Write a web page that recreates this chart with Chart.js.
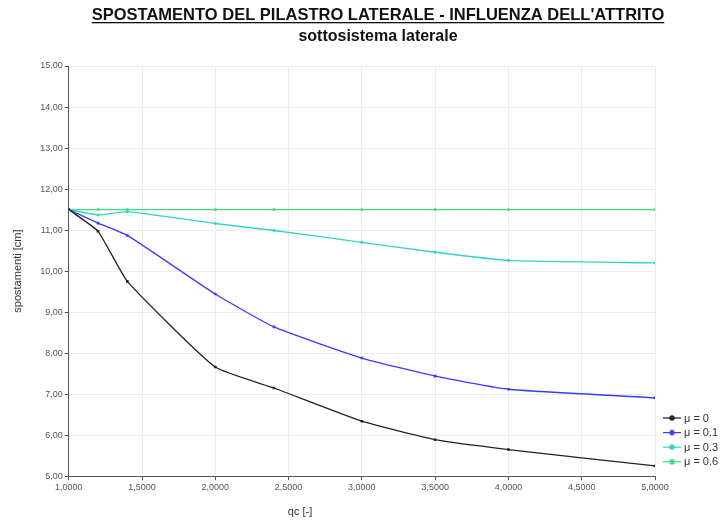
<!DOCTYPE html>
<html>
<head>
<meta charset="utf-8">
<script src="https://cdn.jsdelivr.net/npm/chart.js@4.4.1/dist/chart.umd.min.js"></script>
<style>
  html, body { margin: 0; padding: 0; background: #fff; }
  canvas { display: block; }
</style>
</head>
<body>
<canvas id="grafico" width="721" height="523"></canvas>
<script>
// qc [-] sull'asse x, spostamenti [cm] sull'asse y
var qc = [1.0, 1.2, 1.4, 2.0, 2.4, 3.0, 3.5, 4.0, 5.0];
var mu0 = [11.50, 10.97, 9.75, 7.66, 7.15, 6.34, 5.89, 5.65, 5.25];
var mu01 = [11.50, 11.17, 10.87, 9.44, 8.64, 7.88, 7.44, 7.12, 6.91];
var mu03 = [11.50, 11.37, 11.45, 11.16, 10.99, 10.70, 10.46, 10.26, 10.20];
var mu06 = [11.50, 11.50, 11.50, 11.50, 11.50, 11.50, 11.50, 11.50, 11.50];
var etichette = ["μ = 0", "μ = 0.1", "μ = 0.3", "μ = 0.6"];

var titolo = "SPOSTAMENTO DEL PILASTRO LATERALE - INFLUENZA DELL'ATTRITO";
var sottotitolo = "sottosistema laterale";

var colori = ["#222222", "#3b3bff", "#35d2c6", "#3edc80"];
var FONT = "'Liberation Sans', Arial, sans-serif";

function punti(valori) {
  return qc.map(function (x, i) { return { x: x, y: valori[i] }; });
}

function virgola(v, dec) {
  return Number(v).toFixed(dec).replace(".", ",");
}

// titoli, titolo dell'asse x e legenda (linea + asterisco) disegnati a mano
var decorazioni = {
  id: "decorazioni",
  afterDraw: function (chart) {
    var ctx = chart.ctx;
    var cx = 378;
    ctx.save();
    ctx.fillStyle = "#111";
    ctx.textAlign = "center";
    ctx.textBaseline = "alphabetic";
    ctx.font = "bold 16.5px " + FONT;
    ctx.fillText(titolo, cx, 20);
    var w = ctx.measureText(titolo).width;
    ctx.fillRect(cx - w / 2, 22, w, 1.3);
    ctx.font = "bold 16px " + FONT;
    ctx.fillText(sottotitolo, cx, 41);

    ctx.font = "11px " + FONT;
    ctx.fillStyle = "#333";
    ctx.fillText("qc [-]", 300, 515);

    // legenda
    ctx.textAlign = "left";
    ctx.textBaseline = "middle";
    chart.data.datasets.forEach(function (ds, i) {
      var y = 418 + i * 14.6;
      var x0 = 663, x1 = 681, xm = (x0 + x1) / 2;
      ctx.strokeStyle = ds.borderColor;
      ctx.lineWidth = 1.2;
      ctx.beginPath();
      ctx.moveTo(x0, y);
      ctx.lineTo(x1, y);
      ctx.stroke();
      ctx.lineWidth = 1.4;
      ctx.beginPath();
      for (var k = 0; k < 4; k++) {
        var a = k * Math.PI / 4;
        ctx.moveTo(xm - 3 * Math.cos(a), y - 3 * Math.sin(a));
        ctx.lineTo(xm + 3 * Math.cos(a), y + 3 * Math.sin(a));
      }
      ctx.stroke();
      ctx.fillStyle = "#333";
      ctx.fillText(ds.label, x1 + 3, y + 0.5);
    });
    ctx.restore();
  }
};

var serie = [mu0, mu01, mu03, mu06];

new Chart(document.getElementById("grafico").getContext("2d"), {
  type: "line",
  data: {
    datasets: serie.map(function (valori, i) {
      return {
        label: etichette[i],
        data: punti(valori),
        borderColor: colori[i],
        backgroundColor: colori[i],
        borderWidth: 1.3,
        pointStyle: "rect",
        pointRadius: 1.8,
        pointBorderWidth: 0,
        tension: 0.15,
        fill: false
      };
    })
  },
  options: {
    responsive: false,
    animation: false,
    layout: { padding: { top: 66, left: 11, right: 66, bottom: 28 } },
    plugins: {
      title: { display: false },
      tooltip: { enabled: false },
      legend: { display: false }
    },
    scales: {
      x: {
        type: "linear",
        min: 1,
        max: 5,
        border: { color: "#555", width: 1 },
        grid: { color: "#ececec", tickColor: "#555", tickLength: 4 },
        ticks: {
          stepSize: 0.5,
          color: "#555",
          font: { family: FONT, size: 9 },
          padding: 2,
          maxRotation: 0,
          callback: function (v) { return virgola(v, 4); }
        }
      },
      y: {
        min: 5,
        max: 15,
        border: { color: "#555", width: 1 },
        grid: { color: "#ececec", tickColor: "#555", tickLength: 4 },
        title: {
          display: true,
          text: "spostamenti [cm]",
          color: "#333",
          font: { family: FONT, size: 11 },
          padding: { top: 0, bottom: 14 }
        },
        ticks: {
          stepSize: 1,
          color: "#555",
          font: { family: FONT, size: 9 },
          padding: 2,
          callback: function (v) { return virgola(v, 2); }
        }
      }
    }
  },
  plugins: [decorazioni]
});
</script>
</body>
</html>
